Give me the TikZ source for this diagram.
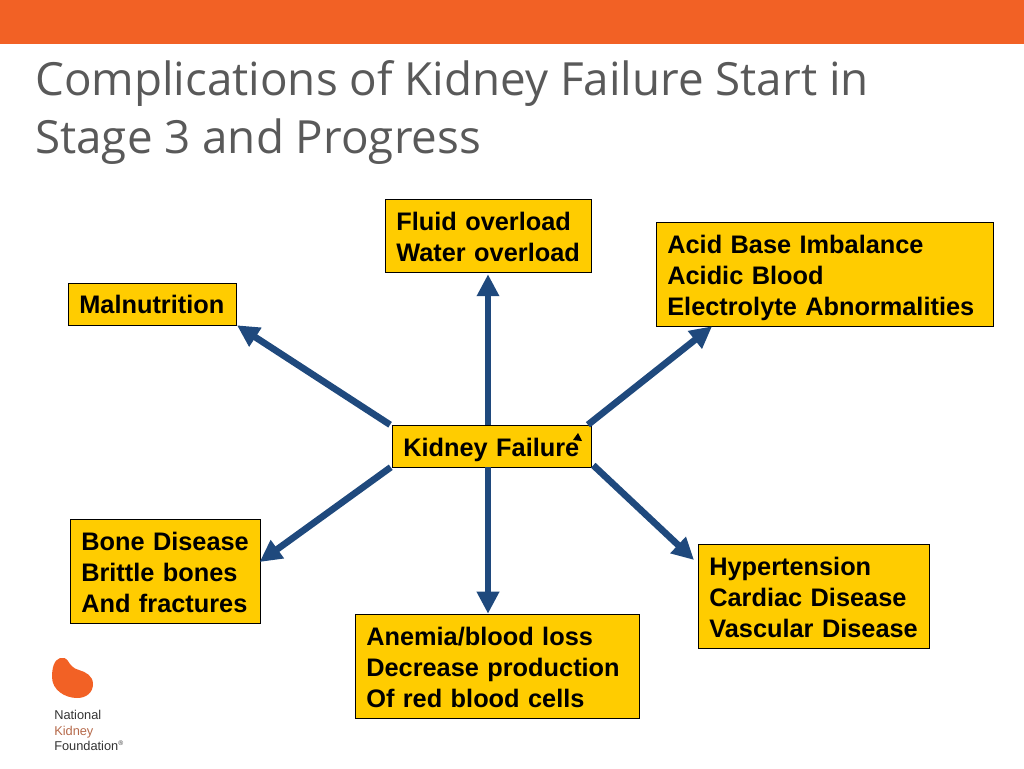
\documentclass[tikz,border=0pt]{standalone}
\usepackage{fontspec}
\setmainfont{Liberation Sans}
\newfontfamily\titlefont{Open Sans}
\usetikzlibrary{arrows.meta}
\definecolor{kband}{HTML}{F26125}
\definecolor{kyellow}{HTML}{FFCC00}
\definecolor{karrow}{HTML}{1F497D}
\definecolor{ktitle}{HTML}{595959}
\definecolor{klogo}{HTML}{B5694A}

\begin{document}
\begin{tikzpicture}[x=0.75pt, y=-0.75pt, inner sep=0pt]

    \tikzstyle{kbox}=[rectangle, fill=kyellow, draw=black, text=black, font=\fontsize{19}{23.25}\selectfont\bfseries, align=left, inner xsep=8.25pt, minimum height=78pt]
    \tikzstyle{karr}=[-{Triangle[length=16.5pt,width=16pt]}, draw=karrow, line width=5pt]
    \tikzstyle{ktitle}=[anchor=base west, text=ktitle, font=\titlefont\fontsize{34.3}{43.5}\selectfont]
    \tikzstyle{klogotext}=[anchor=base west, font=\fontsize{9.6}{12}\selectfont]

    \useasboundingbox (0,0) rectangle (1024,768);
    \fill[kband] (0,0) rectangle (1024,44);

    \node[ktitle] (T1) at (35,95) {Complications of Kidney Failure Start in};
    \node[ktitle] (T2) at (35,153) {Stage 3 and Progress};

    \node[kbox, text width=133pt, minimum height=31.5pt] (KF) at (492,446) {\rule{0pt}{19.85pt}Kidney Failure};
    \node[kbox, text width=109.75pt, minimum height=31.5pt] (Mal) [above of=KF, node distance=106.5pt, xshift=-254.6pt] {Malnutrition};
    \node[kbox, text width=138.25pt, minimum height=54.75pt] (Fluid) [above of=KF, node distance=157.9pt, xshift=-2.6pt] {\rule{0pt}{15.35pt}Fluid overload\\Water overload};
    \node[kbox, text width=236.5pt] (Acid) [above of=KF, node distance=129pt, xshift=249.75pt] {\rule{0pt}{19.85pt}Acid Base Imbalance\\Acidic Blood\\Electrolyte Abnormalities};
    \node[kbox, text width=126.25pt] (Bone) [below of=KF, node distance=93.75pt, xshift=-244.9pt] {\rule{0pt}{15.35pt}Bone Disease\\Brittle bones\\And fractures};
    \node[kbox, text width=157pt] (Hyper) [below of=KF, node distance=112.5pt, xshift=241.5pt] {\rule{0pt}{15.35pt}Hypertension\\Cardiac Disease\\Vascular Disease};
    \node[kbox, text width=196.75pt] (Anemia) [below of=KF, node distance=165pt, xshift=4.1pt] {\rule{0pt}{15.35pt}Anemia/blood loss\\Decrease production\\Of red blood cells};

    \draw[karr] ([xshift=-3pt] KF.north) to ([xshift=-0.4pt,yshift=-1.5pt] Fluid.south);
    \draw[karr] ([xshift=-1.5pt] KF.north west) to (Mal.south east);
    \draw[karr] ([xshift=-3pt] KF.north east) to ([xshift=42pt] Acid.south west);
    \draw[karr] ([xshift=-1pt] KF.south west) to ([xshift=-1pt,yshift=6.75pt] Bone.east);
    \draw[karr] ([xshift=1pt,yshift=1.5pt] KF.south east) to ([xshift=-3pt,yshift=27pt] Hyper.west);
    \draw[karr] ([xshift=-3pt] KF.south) to ([xshift=-7.1pt] Anemia.north);
    \fill[black] (573,440) -- (578,433) -- (582,441) -- cycle;

    % logo
    \fill[kband] (60,658) .. controls (54,660) and (52,668) .. (52,677) .. controls (52,690) and (65,698) .. (77,698) .. controls (87,698) and (93,692) .. (93,684) .. controls (93,676) and (86,672) .. (79,670) .. controls (72,668) and (70,664) .. (68,661) .. controls (66,658) and (63,657) .. (60,658);
    \node[klogotext, text=black!80] (N1) at (54,719) {National};
    \node[klogotext, text=klogo] (N2) at (54,735) {Kidney};
    \node[klogotext, text=black!80] (N3) at (54,750) {Foundation\textsuperscript{\tiny ®}};
\end{tikzpicture}
\end{document}
